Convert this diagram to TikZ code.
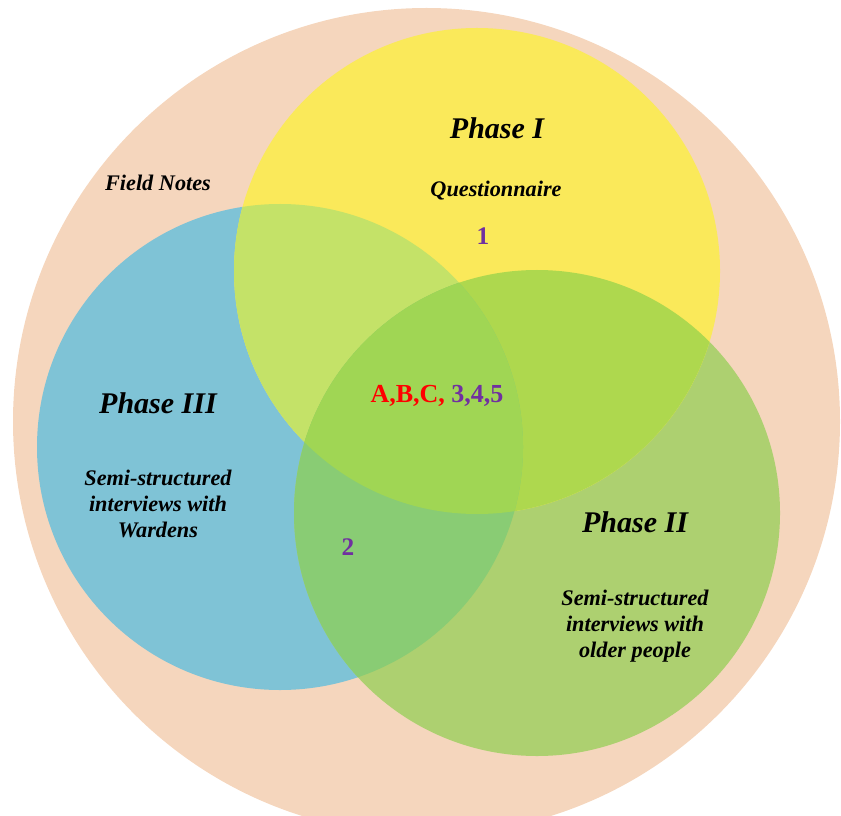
\documentclass[tikz,border=0pt]{standalone}
\usepackage{fontspec}
\setmainfont{Liberation Serif}
\definecolor{peach}{RGB}{245,214,189}
\definecolor{yonly}{RGB}{250,233,90}
\definecolor{bonly}{RGB}{127,195,214}
\definecolor{gonly}{RGB}{173,208,112}
\definecolor{ybcol}{RGB}{196,226,104}
\definecolor{ygcol}{RGB}{174,216,78}
\definecolor{bgcol}{RGB}{137,204,116}
\definecolor{ybgcol}{RGB}{160,214,84}
\definecolor{numcol}{RGB}{112,48,160}
\definecolor{redtxt}{RGB}{255,0,0}
\begin{document}
\begin{tikzpicture}[x=0.75pt,y=-0.75pt,
  title/.style={font=\fontsize{22.5}{26}\selectfont\bfseries\itshape},
  note/.style={font=\fontsize{16.7}{19.5}\selectfont\bfseries\itshape,align=center},
  num/.style={font=\fontsize{19}{22}\selectfont\bfseries,text=numcol}]
\useasboundingbox (0,0) rectangle (841,816);
\clip (0,0) rectangle (841,816);
% circle centres
\coordinate (cY) at (477,271);
\coordinate (cB) at (280,447);
\coordinate (cG) at (537,513);
\def\rad{243}
% outer field-notes disc
\fill[peach] (426.5,421.5) circle[radius=413.5];
% single-phase discs
\fill[bonly] (cB) circle[radius=\rad];
\fill[gonly] (cG) circle[radius=\rad];
\fill[yonly] (cY) circle[radius=\rad];
% pairwise overlaps
\begin{scope}
  \clip (cY) circle[radius=\rad];
  \fill[ybcol] (cB) circle[radius=\rad];
  \fill[ygcol] (cG) circle[radius=\rad];
\end{scope}
\begin{scope}
  \clip (cB) circle[radius=\rad];
  \fill[bgcol] (cG) circle[radius=\rad];
\end{scope}
% triple overlap
\begin{scope}
  \clip (cY) circle[radius=\rad];
  \clip (cB) circle[radius=\rad];
  \fill[ybgcol] (cG) circle[radius=\rad];
\end{scope}
% labels
\node[note] (fieldnotes) at (158,183) {Field Notes};
\node[title] (p1) at (497,128) {Phase I};
\node[note] (quest) at (496,191) {Questionnaire};
\node[num] (n1) at (483,236) {1};
\node[title] (p3) at (158,403) {Phase III};
\node[note] (wardens) at (158,504) {Semi-structured\\interviews with\\Wardens};
\node[font=\fontsize{19.5}{22}\selectfont\bfseries] (core) at (437,396)
  {\textcolor{redtxt}{A,B,C,} \textcolor{numcol}{3,4,5}};
\node[num] (n2) at (348,547) {2};
\node[title] (p2) at (635,522) {Phase II};
\node[note] (older) at (635,626) {Semi-structured\\interviews with\\older people};
\end{tikzpicture}
\end{document}
